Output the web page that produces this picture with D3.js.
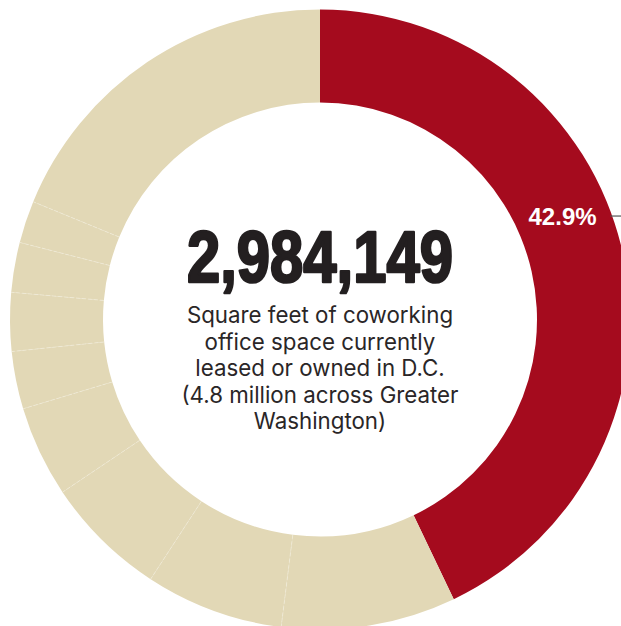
<!DOCTYPE html>
<html>
<head>
<meta charset="utf-8">
<script src="https://cdn.jsdelivr.net/npm/d3@7"></script>
<style>
  html, body { margin: 0; padding: 0; background: #fff; }
  svg { display: block; }
</style>
</head>
<body>
<svg id="chart" width="621" height="626"></svg>
<script>
// Share of D.C. coworking square footage, by operator (percent)
const operators = ["WeWork", "Operator 2", "Operator 3", "Operator 4", "Operator 5",
                   "Operator 6", "Operator 7", "Operator 8", "Operator 9", "All others"];
const shares = [42.9, 9.1, 7.2, 6.4, 4.75, 3.0, 3.05, 2.6, 2.2, 18.8];
const highlight = "WeWork";
const totalLabel = "2,984,149";
const captionLines = [
  "Square feet of coworking",
  "office space currently",
  "leased or owned in D.C.",
  "(4.8 million across Greater",
  "Washington)"
];

const svg = d3.select("#chart");
const cx = 320, cy = 319.5;
const outerR = 310, innerR = 217;

const data = operators.map((name, i) => ({ name, value: shares[i] }));

const pie = d3.pie().value(d => d.value).sort(null);
const arcs = pie(data);
const arc = d3.arc().innerRadius(innerR).outerRadius(outerR);

const color = d3.scaleOrdinal()
  .domain([highlight, "other"])
  .range(["#A50B1E", "#E2D8B6"]);

const g = svg.append("g").attr("transform", `translate(${cx},${cy})`);

g.selectAll("path.slice")
  .data(arcs)
  .join("path")
  .attr("class", "slice")
  .attr("d", arc)
  .attr("fill", d => color(d.data.name === highlight ? highlight : "other"));

// faint dividers between the beige slices
const dividers = arcs.filter(d => d.data.name !== highlight && d.index > 1);
g.selectAll("line.divider")
  .data(dividers)
  .join("line")
  .attr("class", "divider")
  .attr("x1", d => innerR * Math.sin(d.startAngle))
  .attr("y1", d => -innerR * Math.cos(d.startAngle))
  .attr("x2", d => outerR * Math.sin(d.startAngle))
  .attr("y2", d => -outerR * Math.cos(d.startAngle))
  .attr("stroke", "#f3eddc")
  .attr("stroke-width", 0.8)
  .attr("stroke-dasharray", "4 2")
  .attr("opacity", 0.8);

// percentage label on the highlighted slice, with a short leader line
const hl = arcs.find(d => d.data.name === highlight);
const labelAngle = 67 * Math.PI / 180;
const labelR = (innerR + outerR) / 2;
const lx = labelR * Math.sin(labelAngle);
const ly = -labelR * Math.cos(labelAngle);
g.append("text")
  .attr("x", lx)
  .attr("y", ly + 8.5)
  .attr("text-anchor", "middle")
  .attr("font-family", "'Liberation Sans', Arial, sans-serif")
  .attr("font-weight", "bold")
  .attr("font-size", 24)
  .attr("fill", "#fff")
  .text(d3.format(".1f")(hl.data.value) + "%");

const leaderY = ly - 0.5;
const edgeX = Math.sqrt(outerR * outerR - leaderY * leaderY);
g.append("line")
  .attr("x1", edgeX - 2)
  .attr("x2", 621 - cx)
  .attr("y1", leaderY)
  .attr("y2", leaderY)
  .attr("stroke", "#555")
  .attr("stroke-width", 1.2);

// centre total
svg.append("text")
  .attr("x", 320)
  .attr("y", 282)
  .attr("text-anchor", "middle")
  .attr("font-family", "'Liberation Sans', Arial, sans-serif")
  .attr("font-weight", "bold")
  .attr("font-size", 73)
  .attr("textLength", 266)
  .attr("lengthAdjust", "spacingAndGlyphs")
  .attr("fill", "#231F20")
  .attr("stroke", "#231F20")
  .attr("stroke-width", 2.6)
  .attr("stroke-linejoin", "round")
  .text(totalLabel);

svg.append("g")
  .selectAll("text")
  .data(captionLines)
  .join("text")
  .attr("x", 320)
  .attr("y", (d, i) => 323 + i * 26.6)
  .attr("text-anchor", "middle")
  .attr("font-family", "Inter, Roboto, sans-serif")
  .attr("font-size", 22.3)
  .attr("fill", "#2a2627")
  .text(d => d);
</script>
</body>
</html>
